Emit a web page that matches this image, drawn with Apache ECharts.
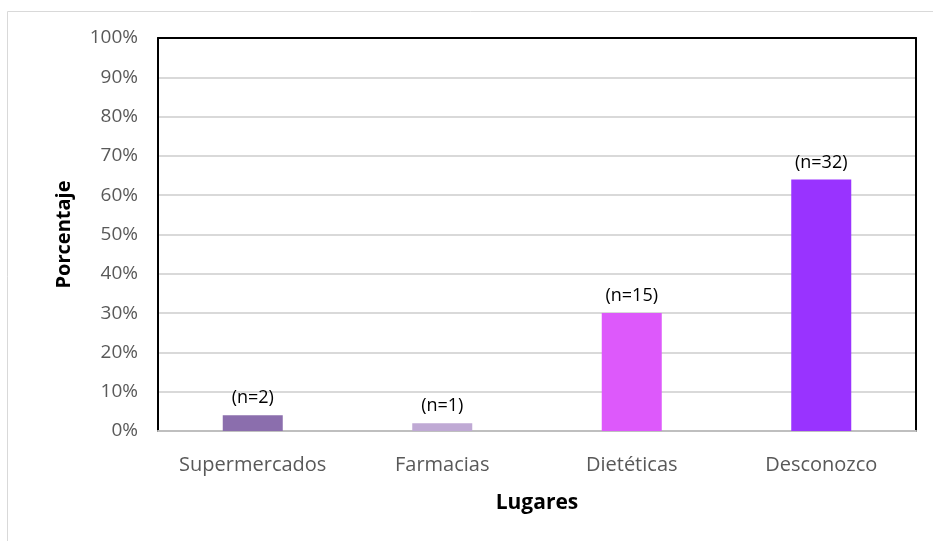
<!DOCTYPE html>
<html>
<head>
<meta charset="utf-8">
<script src="https://cdn.jsdelivr.net/npm/echarts@6/dist/echarts.min.js"></script>
<style>
  html, body { margin: 0; padding: 0; background: #fff; }
  #chart { width: 933px; height: 541px; }
</style>
</head>
<body>
<div id="chart"></div>
<script>
// datos
var categorias = ['Supermercados', 'Farmacias', 'Dietéticas', 'Desconozco'];
var porcentajes = [4, 2, 30, 64];
var etiquetas = ['(n=2)', '(n=1)', '(n=15)', '(n=32)'];
var colores = ['#8B6EAD', '#BFA9D4', '#DD59FB', '#9933FF'];

var chart = echarts.init(document.getElementById('chart'));
var fuente = 'Open Sans';

var barras = porcentajes.map(function (v, i) {
  return {
    value: v,
    itemStyle: { color: colores[i] },
    label: { formatter: etiquetas[i] }
  };
});

chart.setOption({
  animation: false,
  textStyle: { fontFamily: fuente },
  graphic: [{
    type: 'rect',
    left: 5, top: 9,
    shape: { width: 960, height: 560 },
    style: { fill: 'none', stroke: '#d9d9d9', lineWidth: 1 },
    z: -1
  }],
  grid: { left: 158, right: 17, top: 38, bottom: 110 },
  xAxis: [{
    type: 'category',
    data: categorias,
    name: 'Lugares',
    nameLocation: 'middle',
    nameGap: 62,
    nameTextStyle: { fontSize: 21, fontWeight: 'bold', color: '#000', fontFamily: fuente },
    axisLine: { lineStyle: { color: '#bfbfbf', width: 2 } },
    axisTick: { show: false },
    axisLabel: { interval: 0, fontSize: 20, color: '#595959', margin: 24, fontFamily: fuente }
  }, {
    // marco superior
    type: 'category',
    data: categorias,
    position: 'top',
    axisLine: { onZero: false, lineStyle: { color: '#000', width: 2 } },
    axisTick: { show: false },
    axisLabel: { show: false }
  }],
  yAxis: [{
    type: 'value',
    min: 0, max: 100, interval: 10,
    name: 'Porcentaje',
    nameLocation: 'middle',
    nameGap: 84,
    nameTextStyle: { fontSize: 20, fontWeight: 'bold', color: '#000', fontFamily: fuente },
    axisLine: { show: true, onZero: false, lineStyle: { color: '#000', width: 2 } },
    axisTick: { show: false },
    axisLabel: { fontSize: 19, color: '#595959', margin: 20, formatter: '{value}%', fontFamily: fuente },
    splitLine: { lineStyle: { color: '#d9d9d9', width: 2 } }
  }, {
    // marco derecho
    type: 'value',
    min: 0, max: 100, interval: 10,
    position: 'right',
    axisLine: { show: true, onZero: false, lineStyle: { color: '#000', width: 2 } },
    axisTick: { show: false },
    axisLabel: { show: false },
    splitLine: { show: false }
  }],
  series: [{
    type: 'bar',
    data: barras,
    barWidth: 60,
    label: {
      show: true,
      position: 'top',
      distance: 8,
      fontSize: 18,
      color: '#000',
      fontFamily: fuente
    }
  }]
});
</script>
</body>
</html>
